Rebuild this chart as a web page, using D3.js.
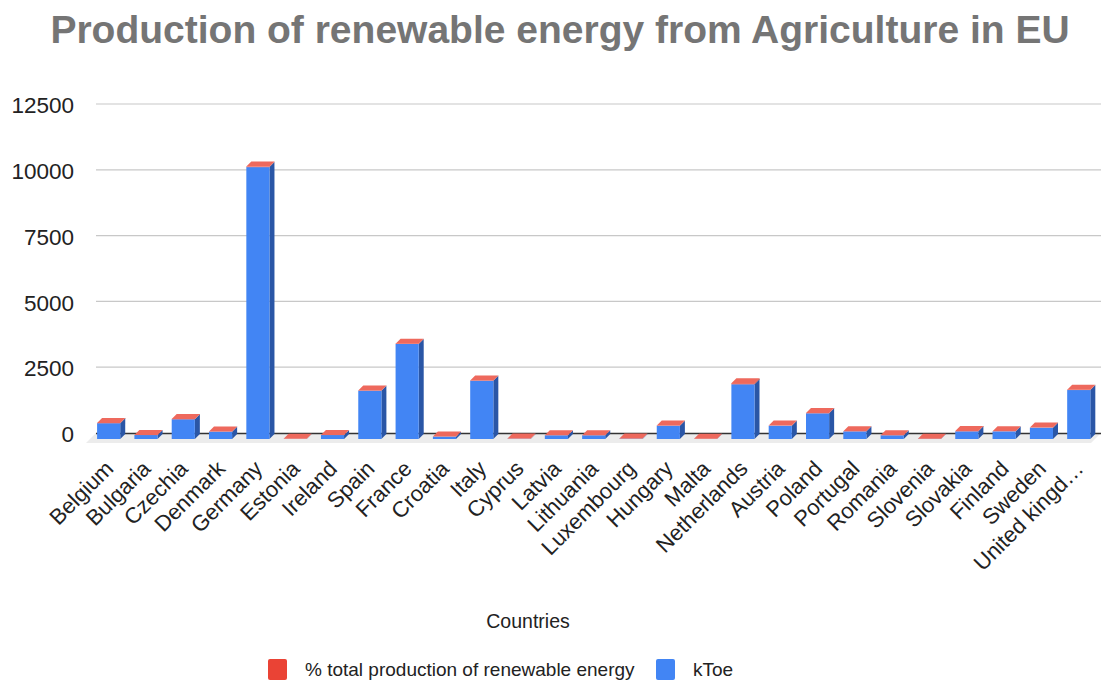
<!DOCTYPE html>
<html>
<head>
<meta charset="utf-8">
<script src="https://cdn.jsdelivr.net/npm/d3@7/dist/d3.min.js"></script>
<style>
  body { margin: 0; background: #fff; }
  svg { display: block; font-family: "Liberation Sans", Arial, sans-serif; }
</style>
</head>
<body>
<svg id="chart" width="1102" height="683"></svg>
<script>
// Renewable energy produced from agriculture, per country
const countries = ["Belgium", "Bulgaria", "Czechia", "Denmark", "Germany", "Estonia", "Ireland",
  "Spain", "France", "Croatia", "Italy", "Cyprus", "Latvia", "Lithuania", "Luxembourg", "Hungary",
  "Malta", "Netherlands", "Austria", "Poland", "Portugal", "Romania", "Slovenia", "Slovakia",
  "Finland", "Sweden", "United kingdom"];

// kToe produced
const ktoe = [600, 150, 750, 280, 10330, 5, 150, 1835, 3610, 90, 2215, 10, 140, 140, 15, 505,
  5, 2080, 505, 975, 290, 140, 10, 290, 290, 430, 1860];

// share of total renewable energy production (%)
const sharePct = [9.5, 3.1, 12.4, 6.2, 21.3, 0.2, 4.8, 9.7, 13.1, 1.7, 9.4, 5.6, 1.5, 2.6, 6.1, 7.9,
  3.0, 37.5, 3.7, 9.6, 4.9, 2.4, 1.6, 10.8, 1.6, 2.3, 12.6];

const yTicks = [0, 2500, 5000, 7500, 10000, 12500];

const seriesNames = ["% total production of renewable energy", "kToe"];
const frontColors = { ktoe: "#4285f4", pct: "#ea4335" };
const sideColors = { ktoe: "#2a56a6", pct: "#b83a2f" };
const topColors = { ktoe: "#5b97f6", pct: "#ee695d" };

const svg = d3.select("#chart");

// depth of the oblique projection
const depthX = 5, depthY = 5;

const x = d3.scaleBand().domain(countries).range([90, 1097.4]).paddingInner(0.38).paddingOuter(0.19);
const y = d3.scaleLinear().domain([0, 12500]).range([433, 104]);

// title
svg.append("text")
  .attr("x", 560).attr("y", 43)
  .attr("text-anchor", "middle")
  .attr("font-size", 39).attr("font-weight", "bold")
  .attr("fill", "#757575")
  .text("Production of renewable energy from Agriculture in EU");

// floor
svg.append("polygon")
  .attr("points", [[96, 433], [1101, 433], [1091, 443], [86, 443]].map(p => p.join(",")).join(" "))
  .attr("fill", "#ececec");

// grid lines and y labels
const grid = svg.append("g");
yTicks.forEach(t => {
  if (t !== 0) {
    grid.append("line")
      .attr("x1", 96).attr("x2", 1101)
      .attr("y1", y(t)).attr("y2", y(t))
      .attr("stroke", "#c8c8c8").attr("stroke-width", 1.2);
  }
  grid.append("text")
    .attr("x", 74).attr("y", y(t) + 1)
    .attr("dy", "0.36em")
    .attr("text-anchor", "end")
    .attr("font-size", 22.5).attr("fill", "#222")
    .text(t);
});

// baseline
svg.append("line")
  .attr("x1", 96).attr("x2", 1101)
  .attr("y1", 433.5).attr("y2", 433.5)
  .attr("stroke", "#333").attr("stroke-width", 1.5);

// stacked 3D columns: kToe at the bottom, percentage on top
const rows = countries.map((c, i) => ({ country: c, ktoe: ktoe[i], pct: sharePct[i] }));
const stack = d3.stack().keys(["ktoe", "pct"])(rows);

const frontBase = 439;  // front face baseline
const toFront = v => frontBase - (y(0) - y(v));

const bars = svg.append("g");
rows.forEach((r, i) => {
  const x0 = x(r.country), w = x.bandwidth();
  stack.forEach((layer, li) => {
    const key = layer.key;
    const [a, b] = layer[i];
    const yb = toFront(a), yt = toFront(b);
    const g = bars.append("g");
    // side face
    g.append("polygon")
      .attr("points", [[x0 + w, yt], [x0 + w + depthX, yt - depthY], [x0 + w + depthX, yb - depthY], [x0 + w, yb]]
        .map(p => p.join(",")).join(" "))
      .attr("fill", sideColors[key]);
    // front face
    g.append("rect")
      .attr("x", x0).attr("y", yt)
      .attr("width", w).attr("height", Math.max(0, yb - yt))
      .attr("fill", frontColors[key]);
    // top face only on the uppermost segment
    if (li === stack.length - 1) {
      g.append("polygon")
        .attr("points", [[x0, yt], [x0 + depthX, yt - depthY], [x0 + w + depthX, yt - depthY], [x0 + w, yt]]
          .map(p => p.join(",")).join(" "))
        .attr("fill", topColors[key]);
    }
  });
});

// category labels
const catLabel = c => c.length > 12 ? c.slice(0, 12) + "\u2026" : c;
svg.append("g").selectAll("text")
  .data(countries)
  .join("text")
  .attr("transform", d => `translate(${x(d) + x.bandwidth() / 2 + 6},${470}) rotate(-45)`)
  .attr("text-anchor", "end")
  .attr("font-size", 22).attr("fill", "#222")
  .text(catLabel);

// axis title
svg.append("text")
  .attr("x", 528).attr("y", 628)
  .attr("text-anchor", "middle")
  .attr("font-size", 19.5).attr("fill", "#222")
  .text("Countries");

// legend
const legend = svg.append("g");
const legendItems = [
  { name: seriesNames[0], color: frontColors.pct, x: 268 },
  { name: seriesNames[1], color: frontColors.ktoe, x: 656 }
];
legendItems.forEach(it => {
  legend.append("rect")
    .attr("x", it.x).attr("y", 659)
    .attr("width", 19).attr("height", 21).attr("rx", 2)
    .attr("fill", it.color);
  legend.append("text")
    .attr("x", it.x + 37).attr("y", 676)
    .attr("font-size", 19).attr("fill", "#222")
    .text(it.name);
});
</script>
</body>
</html>
